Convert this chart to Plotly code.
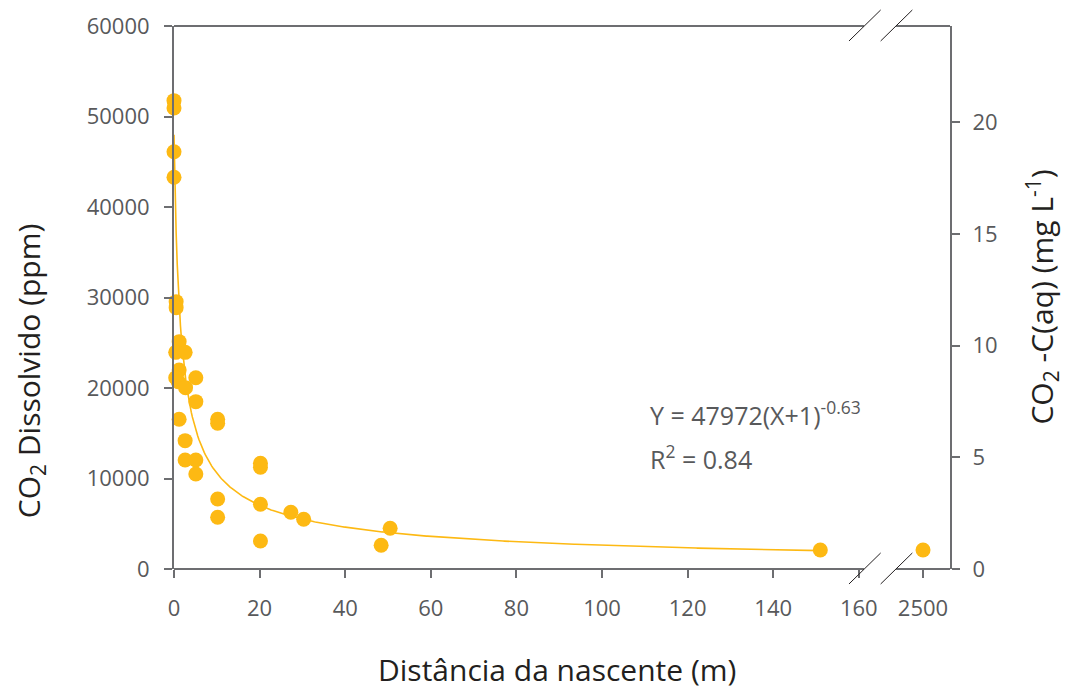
import numpy as np
import plotly.graph_objects as go

# ---------------- data ----------------
dist_m = [0, 0, 0, 0,
          0.5, 0.5, 1.2, 0.4, 2.6, 1.2, 0.4, 1.0, 2.7, 5.1, 5.1, 1.2,
          10.2, 10.2, 2.6, 2.6, 5.1, 5.1, 20.2, 20.2, 10.2, 10.2, 20.2, 20.2,
          27.3, 30.3, 50.5, 48.4, 151, 2500]
co2_ppm = [51750, 50940, 46110, 43280,
           29540, 28880, 25120, 23940, 23940, 21990, 21140, 20700, 20040, 21140, 18490, 16540,
           16540, 16100, 14180, 12040, 12040, 10500, 11680, 11240, 7735, 5710, 7150, 3094,
           6265, 5490, 4500, 2620, 2100, 2100]
fit_a, fit_b = 47972, -0.63
fit_xmax = 151
x_ticks = [0, 20, 40, 60, 80, 100, 120, 140, 160]
far_value = 2500
y_ticks = [0, 10000, 20000, 30000, 40000, 50000, 60000]
y2_ticks = [0, 5, 10, 15, 20]

# ---------------- broken-axis mapping ----------------
X_MAX = 181.3
FAR_POS = 175.0
BREAK_L, BREAK_R = 161.2, 168.7
Y_MAX = 60000
Y2_MAX = 24.3


def xmap(v):
    return FAR_POS if v >= 1000 else v


xs = [xmap(v) for v in dist_m]

gold = "#FDB913"
axc = "#6D6E71"
txt = "#58595B"
dark = "#231F20"
FONT = "Open Sans"

fig = go.Figure()

xf = np.linspace(0, fit_xmax, 600)
yf = fit_a * (xf + 1) ** fit_b
fig.add_trace(go.Scatter(x=xf, y=yf, mode="lines",
                         line=dict(color=gold, width=1.6), hoverinfo="skip", showlegend=False))
fig.add_trace(go.Scatter(x=xs, y=co2_ppm, mode="markers",
                         marker=dict(color=gold, size=15, line=dict(width=0)), showlegend=False,
                         cliponaxis=False))
fig.add_trace(go.Scatter(x=[None], y=[None], yaxis="y2", showlegend=False))

tickfont = dict(family=FONT, size=22, color=txt)

# page body has an 8px margin: shrink the figure to compensate
fig.update_layout(
    width=1063, height=681,
    margin=dict(l=166, r=121, t=18, b=120),
    paper_bgcolor="white", plot_bgcolor="white",
    font=dict(family=FONT, color=txt),
    xaxis=dict(range=[0, X_MAX], tickvals=x_ticks + [FAR_POS],
               ticktext=[str(t) for t in x_ticks] + [str(far_value)],
               showgrid=False, zeroline=False, showline=False, automargin=False,
               ticks="outside", ticklen=8, tickwidth=1.5, tickcolor=axc,
               ticklabelstandoff=12, tickfont=tickfont),
    yaxis=dict(range=[0, Y_MAX], tickvals=y_ticks, ticktext=[str(t) for t in y_ticks],
               showgrid=False, zeroline=False, automargin=False,
               showline=True, linecolor=axc, linewidth=2,
               ticks="outside", ticklen=8, tickwidth=1.5, tickcolor=axc,
               ticklabelstandoff=10, tickfont=tickfont),
    yaxis2=dict(range=[0, Y2_MAX], tickvals=y2_ticks, overlaying="y", side="right",
                showgrid=False, zeroline=False, showline=True, linecolor=axc, linewidth=2,
                automargin=False,
                ticks="outside", ticklen=8, tickwidth=1.5, tickcolor=axc,
                ticklabelstandoff=8, tickfont=tickfont),
)

# axis lines with break
lw = 2
for yy in (0, 1):
    fig.add_shape(type="line", xref="x", yref="paper", x0=0, x1=BREAK_L, y0=yy, y1=yy,
                  line=dict(color=axc, width=lw))
    fig.add_shape(type="line", xref="x", yref="paper", x0=BREAK_R, x1=X_MAX, y0=yy, y1=yy,
                  line=dict(color=axc, width=lw))
    for sx in (157.7, 165.1):
        fig.add_shape(type="line", xref="x", yref="paper",
                      x0=sx, x1=sx + 7.4, y0=yy - 0.0276, y1=yy + 0.0295,
                      line=dict(color=dark, width=1))

titlefont = dict(family=FONT, size=30, color=dark)
fig.add_annotation(x=0.494, y=-0.186, xref="paper", yref="paper", xanchor="center", yanchor="middle",
                   text="Distância da nascente (m)", showarrow=False, font=titlefont)
fig.add_annotation(x=-0.1856, y=0.366, xref="paper", yref="paper", xanchor="center", yanchor="middle",
                   text="CO<sub>2</sub> Dissolvido (ppm)", textangle=-90, showarrow=False, font=titlefont)
fig.add_annotation(x=1.1186, y=0.50, xref="paper", yref="paper", xanchor="center", yanchor="middle",
                   text="CO<sub>2</sub> -C(aq) (mg L<sup>-1</sup>)", textangle=-90, showarrow=False,
                   font=titlefont)

fig.add_annotation(x=0.611, y=0.287, xref="paper", yref="paper", xanchor="left", yanchor="middle",
                   text="Y = 47972(X+1)<sup>-0.63</sup>", showarrow=False,
                   font=dict(family=FONT, size=25, color=txt))
fig.add_annotation(x=0.611, y=0.206, xref="paper", yref="paper", xanchor="left", yanchor="middle",
                   text="R<sup>2</sup> = 0.84", showarrow=False,
                   font=dict(family=FONT, size=25, color=txt))

fig.write_html("out.html")
